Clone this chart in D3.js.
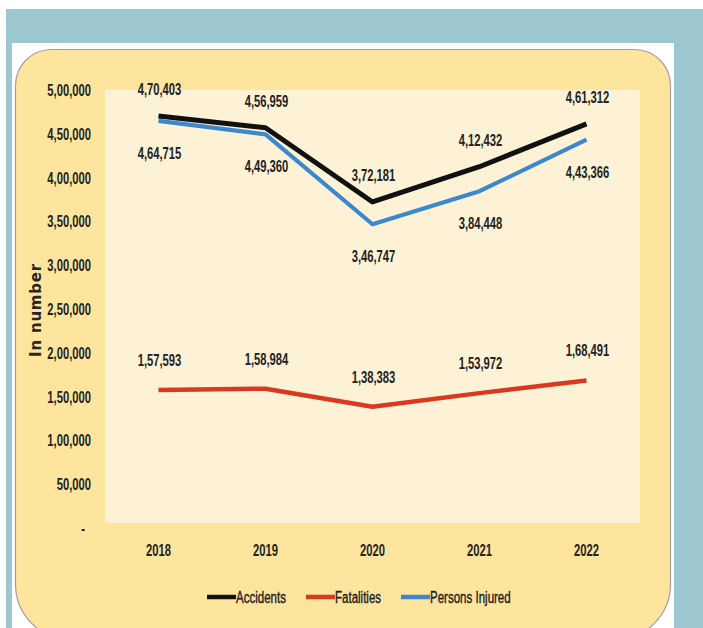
<!DOCTYPE html>
<html>
<head>
<meta charset="utf-8">
<script src="https://cdn.jsdelivr.net/npm/d3@7"></script>
<style>
  html, body { margin: 0; padding: 0; background: #ffffff; }
  svg { display: block; }
  .nar { font-family: "Liberation Sans", Arial, sans-serif; }
</style>
</head>
<body>
<svg id="chart" width="703" height="628"></svg>
<script>
// Road accident statistics, India 2018-2022
const years = ["2018", "2019", "2020", "2021", "2022"];
const accidents = [470403, 456959, 372181, 412432, 461312];
const fatalities = [157593, 158984, 138383, 153972, 168491];
const injured = [464715, 449360, 346747, 384448, 443366];
const yTicks = [0, 50000, 100000, 150000, 200000, 250000, 300000, 350000, 400000, 450000, 500000];
const seriesNames = ["Accidents", "Fatalities", "Persons Injured"];
const seriesColors = ["#111111", "#d8391f", "#3b88cc"];

const series = [
  { name: seriesNames[0], values: accidents, color: seriesColors[0], width: 5, labelDy: -27 },
  { name: seriesNames[1], values: fatalities, color: seriesColors[1], width: 4.5, labelDy: -30 },
  { name: seriesNames[2], values: injured, color: seriesColors[2], width: 4.2, labelDy: 32 }
];

// Indian digit grouping: 4,70,403
function indian(n) {
  if (n === 0) return "-";
  const s = String(Math.round(n));
  if (s.length <= 3) return s;
  const last = s.slice(-3);
  let rest = s.slice(0, -3);
  const parts = [];
  while (rest.length > 2) { parts.unshift(rest.slice(-2)); rest = rest.slice(0, -2); }
  if (rest.length) parts.unshift(rest);
  return parts.join(",") + "," + last;
}

// Squeeze text horizontally to a narrow face
function condense(sel, k) {
  sel.each(function () {
    const w = this.getComputedTextLength();
    d3.select(this).attr("textLength", w * k).attr("lengthAdjust", "spacingAndGlyphs");
  });
}

const svg = d3.select("#chart");

// Frame: teal backdrop, white page, rounded yellow card
svg.append("rect").attr("x", 6).attr("y", 9).attr("width", 697).attr("height", 619).attr("fill", "#9dc7ce");
svg.append("rect").attr("x", 12).attr("y", 43).attr("width", 662).attr("height", 590).attr("fill", "#ffffff");

const cx0 = 15.5, cx1 = 670.5, cy0 = 49.5, cy1 = 640, rt = 36, rb = 56;
const cardPath = d3.path();
cardPath.moveTo(cx0 + rt, cy0);
cardPath.lineTo(cx1 - rt, cy0);
cardPath.arcTo(cx1, cy0, cx1, cy0 + rt, rt);
cardPath.lineTo(cx1, cy1 - rb);
cardPath.arcTo(cx1, cy1, cx1 - rb, cy1, rb);
cardPath.lineTo(cx0 + rb, cy1);
cardPath.arcTo(cx0, cy1, cx0, cy1 - rb, rb);
cardPath.lineTo(cx0, cy0 + rt);
cardPath.arcTo(cx0, cy0, cx0 + rt, cy0, rt);
cardPath.closePath();
svg.append("path").attr("d", cardPath.toString())
  .attr("fill", "#fde59e").attr("stroke", "#a9999c").attr("stroke-width", 1.2);

// Scales
const x = d3.scaleBand().domain(years).range([105, 640]);
const y = d3.scaleLinear().domain([0, 500000]).range([528, 90]);

// Plot area
svg.append("rect")
  .attr("x", x.range()[0]).attr("y", y(500000))
  .attr("width", x.range()[1] - x.range()[0]).attr("height", 523 - y(500000))
  .attr("fill", "#fdf2d5");

// Y axis
const yAxis = svg.append("g").attr("class", "nar")
  .attr("transform", "translate(94,0)")
  .call(d3.axisLeft(y).tickValues(yTicks).tickFormat(indian).tickSize(0).tickPadding(3));
yAxis.select(".domain").remove();
yAxis.selectAll("text")
  .attr("font-size", 17).attr("font-weight", "bold").attr("fill", "#222")
  .attr("font-family", null)
  .attr("x", d => d === 0 ? -9 : -3);
condense(yAxis.selectAll("text"), 0.66);

// X axis
const xAxis = svg.append("g").attr("class", "nar")
  .attr("transform", "translate(0,528)")
  .call(d3.axisBottom(x).tickSize(0).tickPadding(16));
xAxis.select(".domain").remove();
xAxis.selectAll("text")
  .attr("font-size", 17).attr("font-weight", "bold").attr("fill", "#222")
  .attr("font-family", null);
condense(xAxis.selectAll("text"), 0.66);

// Y axis title
svg.append("text")
  .attr("transform", "translate(41,310) rotate(-90)")
  .attr("text-anchor", "middle")
  .attr("font-family", "DejaVu Sans, sans-serif")
  .attr("font-weight", "bold").attr("font-size", 15)
  .attr("letter-spacing", 0.8)
  .attr("fill", "#262626")
  .text("In number");

// Lines
const line = d3.line()
  .x((d, i) => x(years[i]) + x.bandwidth() / 2)
  .y(d => y(d));

svg.append("g").selectAll("path")
  .data(series)
  .join("path")
  .attr("d", s => line(s.values))
  .attr("fill", "none")
  .attr("stroke", s => s.color)
  .attr("stroke-width", s => s.width)
  .attr("stroke-linejoin", "round");

// Data labels
const labels = svg.append("g").attr("class", "nar");
series.forEach(s => {
  labels.append("g").selectAll("text")
    .data(s.values)
    .join("text")
    .attr("x", (d, i) => x(years[i]) + x.bandwidth() / 2 + 1)
    .attr("y", d => y(d) + s.labelDy)
    .attr("dy", "0.35em")
    .attr("text-anchor", "middle")
    .attr("font-size", 17).attr("font-weight", "bold").attr("fill", "#222")
    .text(d => indian(d));
});
condense(labels.selectAll("text"), 0.66);

// Legend
const legendItems = [
  { name: seriesNames[0], color: seriesColors[0], x: 207 },
  { name: seriesNames[1], color: seriesColors[1], x: 306 },
  { name: seriesNames[2], color: seriesColors[2], x: 401 }
];
const legend = svg.append("g").attr("class", "nar");
const li = legend.selectAll("g").data(legendItems).join("g")
  .attr("transform", d => `translate(${d.x},597)`);
li.append("line").attr("x1", 0).attr("x2", 29).attr("y1", 0).attr("y2", 0)
  .attr("stroke", d => d.color).attr("stroke-width", 4.5);
li.append("text").attr("x", 29).attr("dy", "0.35em")
  .attr("font-size", 16).attr("fill", "#1e1e1e")
  .attr("stroke", "#1e1e1e").attr("stroke-width", 0.4)
  .text(d => d.name);
condense(li.selectAll("text"), 0.72);
</script>
</body>
</html>
